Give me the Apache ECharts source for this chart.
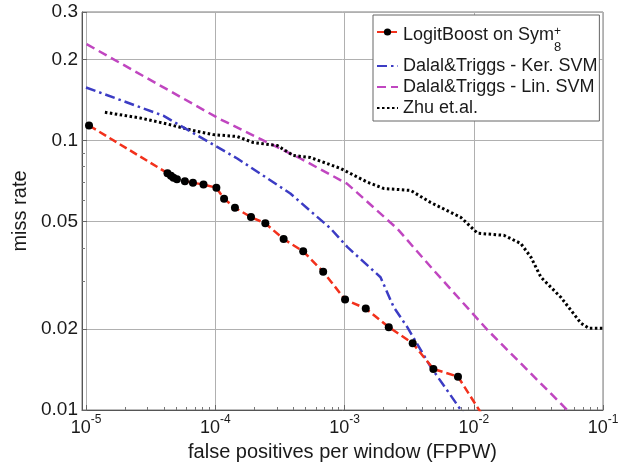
<!DOCTYPE html>
<html><head><meta charset="utf-8">
<script src="https://cdn.jsdelivr.net/npm/echarts@6/dist/echarts.min.js"></script>
<style>html,body{margin:0;padding:0;background:#fff}#c{width:641px;height:470px}</style>
</head><body><div id="c"></div>
<script>
// ---- axis ranges & ticks ----
const xTicks = [1e-5, 1e-4, 1e-3, 1e-2, 1e-1];
const yTicks = [0.01, 0.02, 0.05, 0.1, 0.2, 0.3];
const xMinorTicks = [2e-5,3e-5,4e-5,5e-5,6e-5,7e-5,8e-5,9e-5,2e-4,3e-4,4e-4,5e-4,6e-4,7e-4,8e-4,9e-4,2e-3,3e-3,4e-3,5e-3,6e-3,7e-3,8e-3,9e-3,2e-2,3e-2,4e-2,5e-2,6e-2,7e-2,8e-2,9e-2];
const yMinorTicks = [0.03,0.04,0.06,0.07,0.08,0.09];
const xMin = 9.31e-6, xMax = 0.1, yMin = 0.01, yMax = 0.3;

// ---- series data (FPPW, miss rate) ----
const seriesNames = ['LogitBoost on Sym', 'Dalal&Triggs - Ker. SVM', 'Dalal&Triggs - Lin. SVM', 'Zhu et.al.'];
const logitFppw = [1.055e-5,4.27e-5,4.54e-5,4.75e-5,5.05e-5,5.82e-5,6.72e-5,8.11e-5,1.02e-4,1.17e-4,1.42e-4,1.89e-4,2.44e-4,3.38e-4,4.79e-4,6.84e-4,1.01e-3,1.46e-3,2.20e-3,3.37e-3,4.87e-3,7.55e-3,1.23e-2];
const logitMiss = [0.1137,0.0757,0.0740,0.0727,0.0719,0.0707,0.0697,0.0687,0.0668,0.0608,0.0563,0.0520,0.0493,0.0431,0.0388,0.0326,0.0257,0.0238,0.0203,0.0177,0.0142,0.0133,0.0092];
const kerFppw = [1e-5,3.96e-5,1.48e-4,3.81e-4,7.79e-4,1.055e-3,1.90e-3,2.40e-3,3.06e-3,4.64e-3,8.98e-3];
const kerMiss = [0.1574,0.1237,0.0858,0.0636,0.0472,0.0402,0.0311,0.0241,0.0203,0.01446,0.0092];
const linFppw = [1.01e-5,1.07e-4,2.23e-4,4.56e-4,1.05e-3,2.56e-3,4.90e-3,1.28e-2,6.29e-2];
const linMiss = [0.228,0.1206,0.1014,0.0858,0.0691,0.0471,0.0330,0.01979,0.0092];
const zhuFppw = [1.40e-5,2.62e-5,4.22e-5,6.76e-5,9.64e-5,1.48e-4,1.97e-4,3.02e-4,4.02e-4,5.45e-4,9.31e-4,1.50e-3,2.01e-3,3.25e-3,4.64e-3,7.93e-3,1.07e-2,1.71e-2,2.31e-2,2.77e-2,3.31e-2,4.72e-2,6.75e-2,7.78e-2,0.1];
const zhuMiss = [0.1273,0.1213,0.1153,0.1089,0.1052,0.1035,0.0983,0.0958,0.0880,0.0865,0.0788,0.0701,0.0664,0.0653,0.0589,0.0519,0.0453,0.0445,0.0415,0.0369,0.0311,0.0262,0.0210,0.0201,0.0201];

const L = Math.log10;
const pairs = (xs, ys) => xs.map((x, i) => [L(x), L(ys[i])]);
const FONT = 'Liberation Sans, Arial, Helvetica, sans-serif';
const TXT = '#1a1a1a';
const NOFILL = 'rgba(0,0,0,0)';

const chart = echarts.init(document.getElementById('c'), null, {renderer: 'canvas'});
const mainX = {
  type: 'value', min: L(xMin), max: L(xMax),
  axisLine: {show: true, lineStyle: {color: '#555', width: 1}},
  axisTick: {show: true, inside: true, length: 5, customValues: xTicks.map(L), lineStyle: {color: '#666'}},
  axisLabel: {
    customValues: xTicks.map(L), margin: 4, color: TXT, fontFamily: FONT,
    formatter: v => '{b|10}{e|' + Math.round(v) + '}',
    rich: {
      b: {fontSize: 18, fontFamily: FONT, color: TXT, lineHeight: 20, padding: [5, 0, 0, 0], verticalAlign: 'top'},
      e: {fontSize: 12, fontFamily: FONT, color: TXT, lineHeight: 13, verticalAlign: 'top'}
    }
  },
  splitLine: {show: true, lineStyle: {color: '#b0b0b0', width: 1}},
  name: 'false positives per window (FPPW)', nameLocation: 'middle', nameGap: 32,
  nameTextStyle: {fontSize: 20, fontFamily: FONT, color: TXT}
};
const minorX = {
  type: 'value', min: L(xMin), max: L(xMax), position: 'bottom',
  axisLine: {show: false}, axisLabel: {show: false}, splitLine: {show: false},
  axisTick: {show: true, inside: true, length: 3, customValues: xMinorTicks.map(L), lineStyle: {color: '#777'}}
};
const mainY = {
  type: 'value', min: L(yMin), max: L(yMax),
  axisLine: {show: true, lineStyle: {color: '#555', width: 1}},
  axisTick: {show: true, inside: true, length: 5, customValues: yTicks.map(L), lineStyle: {color: '#666'}},
  axisLabel: {
    customValues: yTicks.map(L), margin: 4, color: TXT, fontFamily: FONT, fontSize: 19,
    formatter: v => String(Number(Math.pow(10, v).toPrecision(6)))
  },
  splitLine: {show: true, lineStyle: {color: '#b0b0b0', width: 1}},
  name: 'miss rate', nameLocation: 'middle', nameGap: 42,
  nameTextStyle: {fontSize: 20, fontFamily: FONT, color: TXT}
};
const minorY = {
  type: 'value', min: L(yMin), max: L(yMax), position: 'left',
  axisLine: {show: false}, axisLabel: {show: false}, splitLine: {show: false},
  axisTick: {show: true, inside: true, length: 3, customValues: yMinorTicks.map(L), lineStyle: {color: '#777'}}
};

const common = {type: 'line', xAxisIndex: 0, yAxisIndex: 0, animation: false, emphasis: {disabled: true}, clip: true};
chart.setOption({
  backgroundColor: '#ffffff',
  animation: false,
  grid: {left: 82, right: 38, top: 12, bottom: 60, show: true, borderColor: '#7a7a7a', borderWidth: 1, containLabel: false, outerBoundsMode: 'none'},
  xAxis: [mainX, minorX],
  yAxis: [mainY, minorY],
  legend: {
    orient: 'vertical', left: 373, top: 15, padding: [6, 2, 4, 3],
    itemWidth: 21, itemHeight: 9, itemGap: 3, selectedMode: false,
    backgroundColor: '#ffffff', borderColor: '#666', borderWidth: 1,
    data: seriesNames,
    textStyle: {
      fontFamily: FONT, fontSize: 18, color: TXT,
      rich: {
        a: {fontFamily: FONT, fontSize: 18, color: TXT, lineHeight: 21},
        n: {fontFamily: FONT, fontSize: 18, color: TXT, lineHeight: 22, padding: [5.5, 0, 5.5, 0], verticalAlign: 'top'},
        sp: {fontFamily: FONT, fontSize: 12, color: TXT, lineHeight: 13, padding: [5, 0, 0, 0], verticalAlign: 'top', width: 0},
        sb: {fontFamily: FONT, fontSize: 13, color: TXT, lineHeight: 13, padding: [20, 0, 0, 0], verticalAlign: 'top'}
      }
    },
    formatter: name => name === seriesNames[0] ? '{n|' + name + '}{sp|+}{sb|8}' : '{a|' + name + '}'
  },
  series: [
    Object.assign({}, common, {
      name: seriesNames[0], data: pairs(logitFppw, logitMiss),
      symbol: 'circle', symbolSize: 8, showSymbol: true,
      itemStyle: {color: '#000000'},
      lineStyle: {color: '#f2311c', width: 2.5, type: [8, 4]}, z: 5
    }),
    Object.assign({}, common, {
      name: seriesNames[1], data: pairs(kerFppw, kerMiss), symbol: 'none',
      itemStyle: {color: NOFILL, borderWidth: 0},
      lineStyle: {color: '#3c3cc4', width: 2.5, type: [10, 4, 2.5, 4]}, z: 4
    }),
    Object.assign({}, common, {
      name: seriesNames[2], data: pairs(linFppw, linMiss), symbol: 'none',
      itemStyle: {color: NOFILL, borderWidth: 0},
      lineStyle: {color: '#c046c0', width: 2.5, type: [9, 5]}, z: 3
    }),
    Object.assign({}, common, {
      name: seriesNames[3], data: pairs(zhuFppw, zhuMiss), symbol: 'none',
      itemStyle: {color: NOFILL, borderWidth: 0},
      lineStyle: {color: '#000000', width: 3, type: [2.5, 2.5]}, z: 3
    })
  ]
});
</script></body></html>
